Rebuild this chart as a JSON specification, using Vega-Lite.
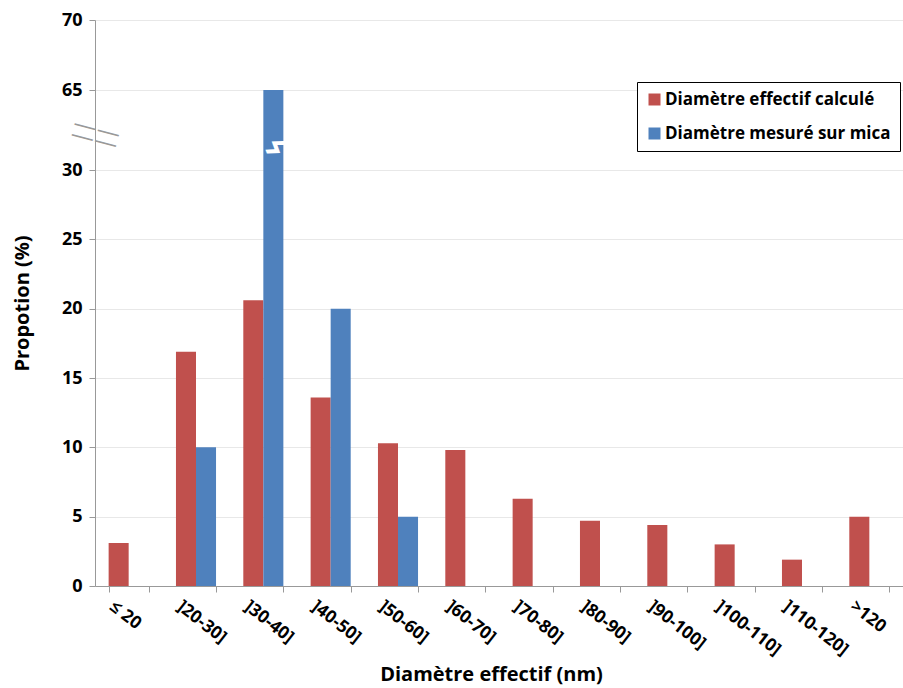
{
  "$schema": "https://vega.github.io/schema/vega-lite/v6.json",
  "autosize": {"type": "none"},
  "padding": {"left": 95, "top": 20, "right": 0, "bottom": 102},
  "width": 808,
  "height": 566,
  "background": "white",
  "config": {
    "font": "Open Sans",
    "view": {"stroke": null}
  },
  "datasets": {
    "main": [
      {"classe": "≤ 20", "serie": "Diamètre effectif calculé", "proportion": 3.1},
      {"classe": "]20-30]", "serie": "Diamètre effectif calculé", "proportion": 16.9},
      {"classe": "]20-30]", "serie": "Diamètre mesuré sur mica", "proportion": 10.0},
      {"classe": "]30-40]", "serie": "Diamètre effectif calculé", "proportion": 20.6},
      {"classe": "]30-40]", "serie": "Diamètre mesuré sur mica", "proportion": 65},
      {"classe": "]40-50]", "serie": "Diamètre effectif calculé", "proportion": 13.6},
      {"classe": "]40-50]", "serie": "Diamètre mesuré sur mica", "proportion": 20.0},
      {"classe": "]50-60]", "serie": "Diamètre effectif calculé", "proportion": 10.3},
      {"classe": "]50-60]", "serie": "Diamètre mesuré sur mica", "proportion": 5.0},
      {"classe": "]60-70]", "serie": "Diamètre effectif calculé", "proportion": 9.8},
      {"classe": "]70-80]", "serie": "Diamètre effectif calculé", "proportion": 6.3},
      {"classe": "]80-90]", "serie": "Diamètre effectif calculé", "proportion": 4.7},
      {"classe": "]90-100]", "serie": "Diamètre effectif calculé", "proportion": 4.4},
      {"classe": "]100-110]", "serie": "Diamètre effectif calculé", "proportion": 3.0},
      {"classe": "]110-120]", "serie": "Diamètre effectif calculé", "proportion": 1.9},
      {"classe": ">120", "serie": "Diamètre effectif calculé", "proportion": 5.0}
    ]
  },
  "layer": [
    {
      "data": {"name": "main"},
      "mark": {"type": "bar"},
      "encoding": {
        "x": {
          "field": "classe",
          "type": "nominal",
          "sort": null,
          "scale": {
            "domain": ["≤ 20", "]20-30]", "]30-40]", "]40-50]", "]50-60]", "]60-70]", "]70-80]", "]80-90]", "]90-100]", "]100-110]", "]110-120]", ">120"],
            "paddingInner": 0.405, "paddingOuter": 0.2025
          },
          "axis": {
            "title": "Diamètre effectif (nm)",
            "titleFontSize": 20,
            "titleFontWeight": "bold",
            "titleColor": "#000000",
            "titleBaseline": "alphabetic",
            "titleX": 396,
            "titleY": 94,
            "labelAngle": 38,
            "labelAlign": "left",
            "labelBaseline": "top",
            "labelOffset": -12,
            "labelPadding": 5,
            "labelFontSize": 17.5,
            "labelFontWeight": "bold",
            "labelColor": "#000000",
            "tickBand": "extent",
            "tickColor": "#999999",
            "tickSize": 6,
            "domainColor": "#999999",
            "grid": false
          }
        },
        "xOffset": {
          "field": "serie",
          "type": "nominal",
          "scale": {"domain": ["Diamètre effectif calculé", "Diamètre mesuré sur mica"]}
        },
        "y": {
          "field": "proportion",
          "type": "quantitative",
          "scale": {"domain": [0, 30, 65, 70], "range": [566, 150, 70, 0], "nice": false, "zero": false, "clamp": true},
          "axis": {
            "title": "Propotion (%)",
            "titleFontSize": 20,
            "titleFontWeight": "bold",
            "titleColor": "#000000",
            "titlePadding": 29,
            "values": [0, 5, 10, 15, 20, 25, 30, 65, 70],
            "labelFontSize": 18,
            "labelFontWeight": "bold",
            "labelColor": "#000000",
            "labelPadding": 7,
            "tickColor": "#999999",
            "tickSize": 6,
            "domainColor": "#999999",
            "grid": true,
            "gridColor": "#e8e8e8"
          }
        },
        "color": {
          "field": "serie",
          "type": "nominal",
          "scale": {"domain": ["Diamètre effectif calculé", "Diamètre mesuré sur mica"], "range": ["#C0504D", "#4F81BD"]},
          "legend": {
            "title": null,
            "orient": "none",
            "legendX": 542,
            "legendY": 62,
            "strokeColor": "#000000",
            "fillColor": "#ffffff",
            "padding": 9,
            "symbolType": "square",
            "symbolSize": 144,
            "symbolStrokeWidth": 0,
            "labelFontSize": 17,
            "labelFontWeight": "bold",
            "labelColor": "#000000",
            "labelOffset": 2,
            "rowPadding": 16,
            "labelLimit": 400
          }
        }
      }
    },
    {
      "data": {"values": [{"classe": "≤ 20", "niveau": 44, "marque": ["——", "——"]}]},
      "mark": {"type": "text", "dx": -33, "fontSize": 24, "lineHeight": 11, "angle": 15, "color": "#999999", "font": "DejaVu Sans", "fontWeight": "normal", "baseline": "middle"},
      "encoding": {
        "x": {"field": "classe", "type": "nominal"},
        "y": {"field": "niveau", "type": "quantitative"},
        "text": {"field": "marque"}
      }
    },
    {
      "data": {"values": [{"classe": "]30-40]", "serie": "Diamètre mesuré sur mica", "niveau": 39.5, "marque": "ϟ"}]},
      "mark": {"type": "text", "fontSize": 28, "angle": 70, "color": "#ffffff", "font": "DejaVu Sans", "fontWeight": "bold"},
      "encoding": {
        "x": {"field": "classe", "type": "nominal"},
        "xOffset": {"field": "serie", "type": "nominal"},
        "y": {"field": "niveau", "type": "quantitative"},
        "text": {"field": "marque"}
      }
    }
  ]
}
